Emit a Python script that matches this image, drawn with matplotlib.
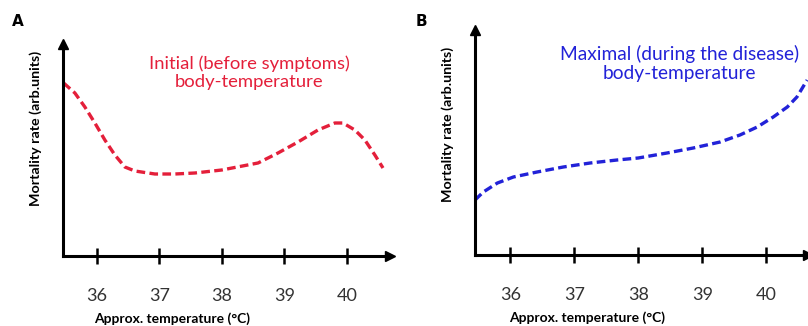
import numpy as np
import matplotlib
matplotlib.use('Agg')
import matplotlib.pyplot as plt

# panel A: initial body temperature
temp_a = [35.47, 35.65, 35.81, 35.97, 36.13, 36.29, 36.45, 36.61, 36.93, 37.25, 37.57, 38.0,
          38.58, 38.9, 39.22, 39.54, 39.81, 39.94, 40.13, 40.29, 40.45, 40.58]
mort_a = [173, 163, 149, 133, 116, 101, 89, 85, 82, 82, 83, 86,
          93, 103, 114, 126, 133, 133, 126, 116, 101, 88]

# panel B: maximal body temperature
temp_b = [35.45, 35.58, 35.8, 36.05, 36.42, 36.83, 37.25, 37.67, 38.0, 38.45, 38.86,
          39.28, 39.59, 39.86, 40.11, 40.33, 40.48, 40.64]
mort_b = [55, 63, 72, 78, 83, 88, 92, 95, 97, 102, 107,
          113, 120, 128, 138, 148, 158, 175]

ticks = [36, 37, 38, 39, 40]

W, H = 808, 326
fig = plt.figure(figsize=(W / 100, H / 100), dpi=100)
plt.rcParams['font.family'] = ['Lato', 'DejaVu Sans']


def make_ax(x0, x1, ytop, ybot, t_left, px_per_deg, ylab_y, xlab_x):
    ax = fig.add_axes([x0 / W, 1 - ybot / H, (x1 - x0) / W, (ybot - ytop) / H])
    ax.set_xlim(t_left, t_left + (x1 - x0) / px_per_deg)
    ax.set_ylim(0, ybot - ytop)
    for s in ['top', 'right']:
        ax.spines[s].set_visible(False)
    for s in ['left', 'bottom']:
        ax.spines[s].set_linewidth(2.2)
    ax.set_yticks([])
    ax.set_xticks(ticks)
    ax.set_xticklabels([str(t) for t in ticks], fontsize=13, color='#333333')
    ax.tick_params(axis='x', direction='inout', length=12, width=1.8, pad=17)
    ax.set_xlabel('Approx. temperature (\u00b0C)', fontsize=10, fontweight='bold')
    ax.xaxis.set_label_coords(xlab_x, -56 / (ybot - ytop))
    ax.set_ylabel('Mortality rate (arb.units)', fontsize=10.3, fontweight='bold')
    ax.yaxis.set_label_coords(-21 / (x1 - x0), ylab_y)
    ax.plot(1, 0, '>', color='k', markersize=7, transform=ax.transAxes, clip_on=False)
    ax.plot(0, 1, '^', color='k', markersize=7, transform=ax.transAxes, clip_on=False)
    return ax


axA = make_ax(63, 390, 44, 256, 35.46, 62.5, 0.60, 0.333)
axA.plot(temp_a, mort_a, color='#e41f3a', lw=2.4, dashes=(2.6, 1.3), clip_on=False)
axA.text(0.57, 0.865, 'Initial (before symptoms)\nbody-temperature', transform=axA.transAxes,
         ha='center', va='center', color='#e41f3a', fontsize=13.3, linespacing=1.2)

axB = make_ax(475, 808, 30, 255, 35.45, 64, 0.58, 0.336)
axB.plot(temp_b, mort_b, color='#2222d8', lw=2.4, dashes=(2.6, 1.3), clip_on=False)
axB.text(0.615, 0.85, 'Maximal (during the disease)\nbody-temperature', transform=axB.transAxes,
         ha='center', va='center', color='#2222d8', fontsize=13.8, linespacing=1.15)

fig.text(12 / W, 1 - 22 / H, 'A', fontsize=11, fontweight='bold', family='DejaVu Sans', va='center')
fig.text(416 / W, 1 - 22 / H, 'B', fontsize=11, fontweight='bold', family='DejaVu Sans', va='center')

fig.savefig('out.png', dpi=100)
